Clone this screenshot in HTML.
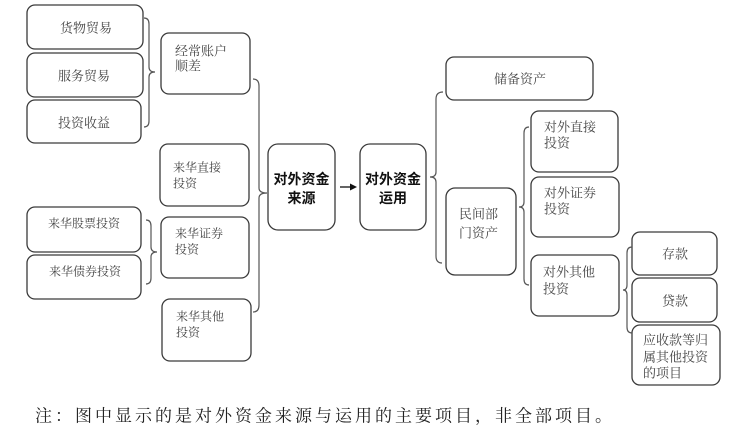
<!DOCTYPE html>
<html><head><meta charset="utf-8"><style>
html,body{margin:0;padding:0;background:#fff;}
svg{display:block;}
.b{fill:#fff;stroke:#3a3a3a;stroke-width:1.3;}
.t{font-family:"Noto Serif CJK SC","Liberation Serif",serif;font-size:13px;fill:#444;}
.s{font-family:"Noto Serif CJK SC","Liberation Serif",serif;font-size:12px;fill:#444;}
.m{font-family:"Noto Sans CJK SC","Liberation Sans",sans-serif;font-size:14px;font-weight:bold;fill:#111;}
.br{fill:none;stroke:#555;stroke-width:1.2;}
.n{font-family:"Noto Serif CJK SC","Liberation Serif",serif;font-size:17px;fill:#222;letter-spacing:3px;}
</style></head><body>
<svg width="740" height="436" viewBox="0 0 740 436" xmlns="http://www.w3.org/2000/svg">
<!-- left boxes -->
<rect class="b" x="27" y="5" width="116" height="44" rx="8"/>
<text class="t" x="86" y="27" text-anchor="middle" dominant-baseline="central">货物贸易</text>
<rect class="b" x="27" y="53" width="116" height="44" rx="8"/>
<text class="t" x="84" y="75" text-anchor="middle" dominant-baseline="central">服务贸易</text>
<rect class="b" x="27" y="100" width="114" height="43" rx="8"/>
<text class="t" x="84" y="122" text-anchor="middle" dominant-baseline="central">投资收益</text>

<rect class="b" x="161" y="33" width="89" height="61" rx="8"/>
<text class="t" x="175" y="50" dominant-baseline="central">经常账户</text>
<text class="t" x="175" y="65" dominant-baseline="central">顺差</text>

<rect class="b" x="160" y="144" width="89" height="62" rx="8"/>
<text class="s" x="173" y="167" dominant-baseline="central">来华直接</text>
<text class="s" x="173" y="183" dominant-baseline="central">投资</text>

<rect class="b" x="27" y="207" width="114" height="45" rx="8"/>
<text class="s" x="84" y="223" text-anchor="middle" dominant-baseline="central">来华股票投资</text>
<rect class="b" x="27" y="255" width="114" height="44" rx="8"/>
<text class="s" x="85" y="271" text-anchor="middle" dominant-baseline="central">来华债券投资</text>

<rect class="b" x="161" y="217" width="88" height="61" rx="8"/>
<text class="s" x="175" y="233" dominant-baseline="central">来华证券</text>
<text class="s" x="175" y="249" dominant-baseline="central">投资</text>

<rect class="b" x="162" y="299" width="89" height="62" rx="8"/>
<text class="s" x="176" y="316" dominant-baseline="central">来华其他</text>
<text class="s" x="176" y="332" dominant-baseline="central">投资</text>

<!-- middle -->
<rect class="b" x="268" y="144" width="67" height="86" rx="10"/>
<text class="m" x="301.5" y="179" text-anchor="middle" dominant-baseline="central">对外资金</text>
<text class="m" x="301.5" y="198" text-anchor="middle" dominant-baseline="central">来源</text>
<rect class="b" x="360" y="144" width="66" height="86" rx="10"/>
<text class="m" x="393" y="179" text-anchor="middle" dominant-baseline="central">对外资金</text>
<text class="m" x="393" y="198" text-anchor="middle" dominant-baseline="central">运用</text>
<line x1="340" y1="187" x2="351" y2="187" stroke="#111" stroke-width="1.3"/>
<polygon points="357,187 350,183.5 350,190.5" fill="#111"/>

<!-- right boxes -->
<rect class="b" x="446" y="57" width="147" height="43" rx="8"/>
<text class="t" x="520" y="78" text-anchor="middle" dominant-baseline="central">储备资产</text>

<rect class="b" x="446" y="188" width="70" height="87" rx="9"/>
<text class="t" x="459" y="213" dominant-baseline="central">民间部</text>
<text class="t" x="459" y="232" dominant-baseline="central">门资产</text>

<rect class="b" x="531" y="111" width="87" height="61" rx="8"/>
<text class="t" x="544" y="126" dominant-baseline="central">对外直接</text>
<text class="t" x="544" y="142" dominant-baseline="central">投资</text>

<rect class="b" x="531" y="177" width="88" height="60" rx="8"/>
<text class="t" x="544" y="192" dominant-baseline="central">对外证券</text>
<text class="t" x="544" y="208" dominant-baseline="central">投资</text>

<rect class="b" x="531" y="255" width="88" height="61" rx="8"/>
<text class="t" x="543" y="271" dominant-baseline="central">对外其他</text>
<text class="t" x="543" y="288" dominant-baseline="central">投资</text>

<rect class="b" x="632" y="232" width="85" height="43" rx="8"/>
<text class="t" x="675" y="253" text-anchor="middle" dominant-baseline="central">存款</text>
<rect class="b" x="632" y="278" width="85" height="44" rx="8"/>
<text class="t" x="675" y="300" text-anchor="middle" dominant-baseline="central">贷款</text>
<rect class="b" x="632" y="325" width="88" height="60" rx="8"/>
<text class="t" x="643" y="339" dominant-baseline="central">应收款等归</text>
<text class="t" x="643" y="356" dominant-baseline="central">属其他投资</text>
<text class="t" x="643" y="372" dominant-baseline="central">的项目</text>

<!-- braces -->
<path class="br" d="M144,18 Q149,18 149,24 L149,67 Q149,72 155,72 Q149,72 149,77 L149,121 Q149,127 144,127"/>
<path class="br" d="M146,220 Q151,220 151,226 L151,247 Q151,252 157,252 Q151,252 151,257 L151,278 Q151,284 146,284"/>
<path class="br" d="M253,79 Q259,79 259,86 L259,188 Q259,193 267,193 Q259,193 259,198 L259,305 Q259,312 253,312"/>
<path class="br" d="M443,92 Q436,92 436,99 L436,172 Q436,177 430,177 Q436,177 436,182 L436,256 Q436,263 442,263"/>
<path class="br" d="M529,127 Q524,127 524,133 L524,202 Q524,207 519,207 Q524,207 524,212 L524,279 Q524,285 529,285"/>
<path class="br" d="M632,247 Q627,247 627,253 L627,285 Q627,290 623,290 Q627,290 627,295 L627,327 Q627,333 632,333"/>

<text class="n" x="35" y="414" dominant-baseline="central">注：图中显示的是对外资金来源与运用的主要项目，非全部项目。</text>
</svg>
</body></html>
